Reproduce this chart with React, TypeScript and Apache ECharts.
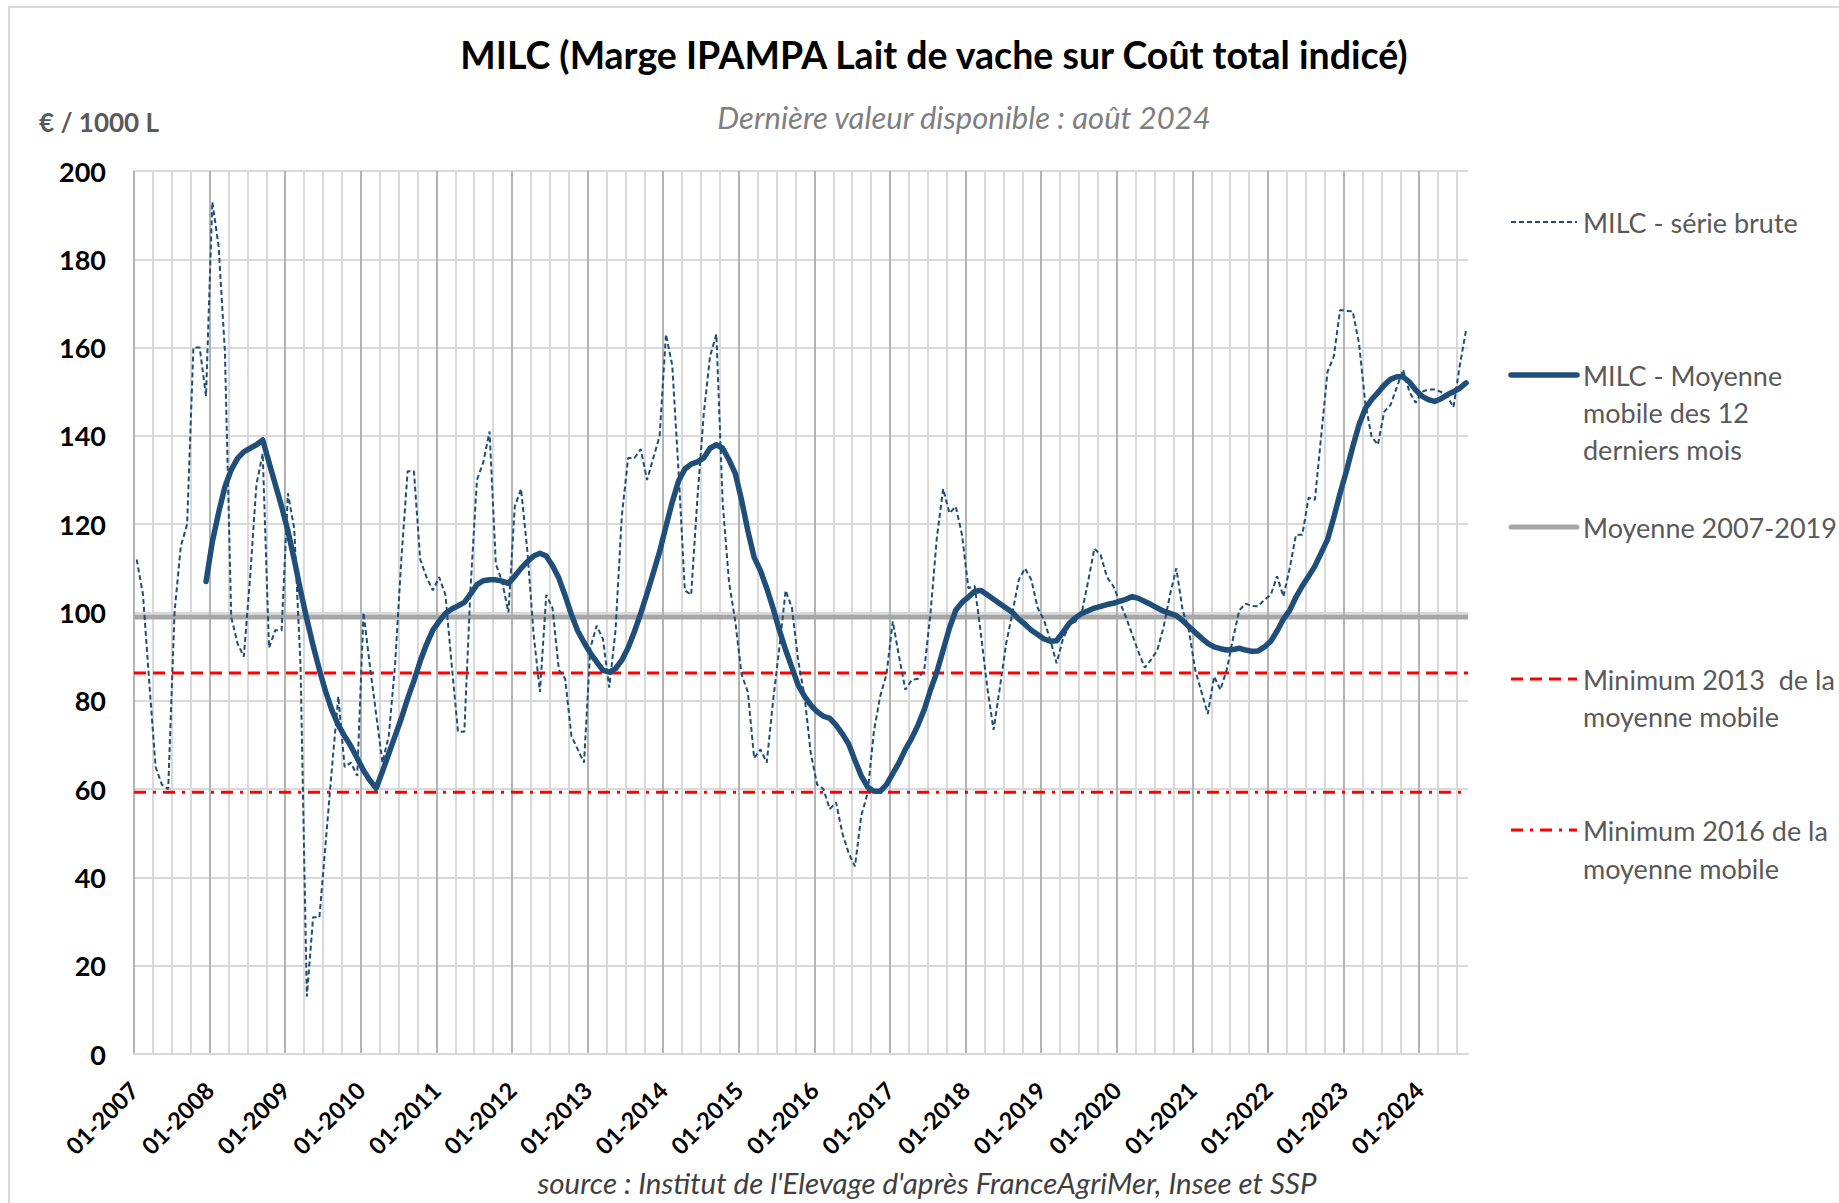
import React, { useEffect, useRef } from "react";
import * as echarts from "echarts";

// Tick labels of the yearly (major) vertical grid lines
const yearLabels = [
  "01-2007", "01-2008", "01-2009", "01-2010", "01-2011", "01-2012",
  "01-2013", "01-2014", "01-2015", "01-2016", "01-2017", "01-2018",
  "01-2019", "01-2020", "01-2021", "01-2022", "01-2023", "01-2024",
];

// MILC - série brute, monthly from 01-2007 to 08-2024 (€ / 1000 L)
const rawSeries = [
  // 2007
  112, 104, 84, 65, 61, 60, 100, 115, 120, 160, 160, 149,
  // 2008
  193, 183, 159, 99, 93, 90, 108, 129, 136, 92, 96, 96,
  // 2009
  127, 119, 88, 13, 31, 31, 48, 65, 81, 65, 66, 63,
  // 2010
  100, 88, 77, 66, 72, 88, 112, 132, 132, 112, 108, 105,
  // 2011
  108, 104, 88, 73, 73, 106, 130, 134, 141, 111, 107, 100,
  // 2012
  124, 128, 114, 95, 82, 104, 101, 87, 85, 72, 69, 66,
  // 2013
  92, 97, 94, 83, 96, 122, 135, 135, 137, 130, 135, 140,
  // 2014
  163, 156, 132, 105, 104, 126, 145, 158, 163, 125, 107, 98,
  // 2015
  86, 82, 67, 69, 66, 80, 92, 105, 101, 89, 81, 68,
  // 2016
  61, 60, 55.5, 57, 50, 45.5, 42.5, 54, 59, 73, 81, 86,
  // 2017
  98, 90, 82.5, 84.7, 85, 87, 100, 117, 128, 122.5, 124, 117.5,
  // 2018
  105.5, 106, 95, 83, 73.4, 83, 93, 100, 107.4, 110, 107.4, 101,
  // 2019
  98.3, 93.8, 88.5, 94, 97, 98, 100, 107, 114.5, 113, 108, 106,
  // 2020
  102.5, 99, 95, 91, 87.5, 89.3, 91.5, 96.8, 104, 110, 100.6, 96,
  // 2021
  87, 82, 77, 85.5, 82.5, 87, 94, 100.5, 102, 101.5, 101.4, 102.9,
  // 2022
  104, 108.2, 103.6, 110, 117.6, 117.6, 126, 125.5, 140, 154.5, 158, 168.5,
  // 2023
  168.3, 168.2, 161, 147.4, 139.8, 138, 145.5, 147, 151, 155, 150, 147.5,
  // 2024
  150, 150.5, 150.5, 150, 149, 146.5, 156, 164,
];

// MILC - Moyenne mobile des 12 derniers mois (starts 12-2007)
const movingAverage: (number | null)[] = [
  // 2007
  null, null, null, null, null, null, null, null, null, null, null, 107,
  // 2008
  116, 122.6, 128.5, 132.3, 134.9, 136.4, 137.2, 138, 139.1, 134, 129, 124,
  // 2009
  118.5, 112, 105, 98.5, 92.5, 87, 82, 77.8, 74.5, 72, 69.7, 67,
  // 2010
  64.2, 62, 60.2, 64, 68, 72, 76, 80.5, 84.5, 89, 92.8, 96,
  // 2011
  98, 99.8, 100.8, 101.5, 102.3, 104.2, 106.3, 107.2, 107.4, 107.4, 107.1, 106.6,
  // 2012
  108.2, 110, 111.5, 112.8, 113.4, 112.8, 110.6, 107.8, 103.8, 99.5, 95.8, 93.2,
  // 2013
  90.8, 88.8, 86.9, 86.5, 87.3, 89.2, 92, 95.7, 99.8, 104.3, 109, 113.8,
  // 2014
  119.5, 125, 129.8, 132.5, 133.6, 134.1, 135, 137.2, 138, 137.2, 134.6, 131.5,
  // 2015
  125.5, 118.5, 112.5, 109.5, 105.5, 101, 96, 91.5, 87.5, 83.5, 81, 79,
  // 2016
  77.5, 76.5, 76, 74.5, 72.5, 70.2, 66.5, 63, 60.5, 59.5, 59.5, 61,
  // 2017
  63.5, 66, 69, 71.5, 74.5, 78, 82.5, 86.5, 91.5, 96.5, 100.5, 102.3,
  // 2018
  103.5, 104.8, 105, 104, 103, 102, 101, 100, 98.5, 97.3, 96, 95,
  // 2019
  94, 93.5, 93.6, 95.5, 97.5, 98.8, 99.8, 100.4, 101, 101.4, 101.8, 102.1,
  // 2020
  102.5, 103, 103.6, 103.2, 102.5, 101.8, 101, 100.3, 99.8, 99.3, 98.2, 96.8,
  // 2021
  95.5, 94.2, 93, 92.2, 91.8, 91.5, 91.6, 91.9, 91.5, 91.2, 91.3, 92.2,
  // 2022
  93.5, 95.8, 98.5, 100.5, 103.5, 106, 108.2, 110.5, 113.5, 116.5, 121.5, 127,
  // 2023
  132, 137.5, 142.5, 146.2, 148.2, 149.8, 151.5, 152.8, 153.4, 153.4, 152.2, 150.4,
  // 2024
  149, 148.2, 147.8, 148.4, 149.3, 150, 150.8, 152,
];

// Reference levels
const MOYENNE_2007_2019 = 99.0;
const MINIMUM_2013 = 86.3;
const MINIMUM_2016 = 59.3;

const FONT = "Lato, 'Open Sans', sans-serif";
const NAVY = "#1f4e79";
const RED = "#ff0000";
const GREY = "#a6a6a6";

// Data axis extent (months from 01-2007); the plot edge sits a bit before the first month
const X_MIN = -0.43;
const X_MAX = 211.3;
const GRID_SPAN = 211.75; // same pixel span, counted from the 01-2007 grid line

export default function App() {
  const ref = useRef<HTMLDivElement>(null);

  useEffect(() => {
    if (!ref.current) return;
    const chart = echarts.init(ref.current, null, { renderer: "svg" });

    const refLine = (v: number) => [
      [X_MIN, v],
      [X_MAX, v],
    ];

    const legendX1 = 1511;
    const legendX2 = 1577;
    const legendTextX = 1583;
    const legendText = (text: string, y: number) => ({
      type: "text",
      x: legendTextX,
      y,
      silent: true,
      style: {
        text,
        fill: "#595959",
        fontSize: 27,
        fontFamily: FONT,
        align: "left",
        verticalAlign: "middle",
        textAlign: "left",
        textVerticalAlign: "middle",
      },
    });
    const legendLine = (y: number, stroke: string, lineWidth: number, lineDash?: number[]) => ({
      type: "line",
      silent: true,
      shape: { x1: legendX1, y1: y, x2: legendX2, y2: y },
      style: { stroke, lineWidth, lineDash: lineDash || null, lineCap: lineDash ? "butt" : "round" },
    });

    const option: any = {
      animation: false,
      backgroundColor: "#ffffff",
      grid: { left: 134, top: 171, width: 1334, height: 883, containLabel: false },
      xAxis: [
        {
          type: "value",
          min: X_MIN,
          max: X_MAX,
          position: "top",
          show: false,
        },
        {
          type: "value",
          min: 0,
          max: GRID_SPAN,
          interval: 3,
          position: "top",
          axisLine: { show: false },
          axisTick: { show: false },
          axisLabel: { show: false },
          splitLine: {
            show: true,
            showMaxLine: false,
            lineStyle: { color: "#d9d9d9", width: 2 },
          },
        },
        {
          type: "value",
          min: 0,
          max: GRID_SPAN,
          interval: 12,
          position: "bottom",
          axisLine: { show: true, onZero: false, lineStyle: { color: "#d9d9d9", width: 2 } },
          axisTick: { show: false },
          axisLabel: {
            show: true,
            rotate: 45,
            margin: 32,
            showMaxLabel: false,
            color: "#000000",
            fontSize: 23.5,
            fontWeight: "bold",
            fontFamily: FONT,
            formatter: (v: number) => {
              const k = Math.round(v / 12);
              return Math.abs(v - k * 12) < 1e-6 ? yearLabels[k] ?? "" : "";
            },
          },
          splitLine: {
            show: true,
            showMaxLine: false,
            lineStyle: { color: "#a6a6a6", width: 1.5 },
          },
        },
      ],
      yAxis: {
        type: "value",
        min: 0,
        max: 200,
        interval: 20,
        axisLine: { show: false },
        axisTick: { show: false },
        axisLabel: {
          margin: 28,
          color: "#000000",
          fontSize: 27,
          fontWeight: "bold",
          fontFamily: FONT,
        },
        splitLine: { show: true, lineStyle: { color: "#d9d9d9", width: 2 } },
      },
      series: [
        {
          name: "Moyenne 2007-2019",
          type: "line",
          xAxisIndex: 0,
          data: refLine(MOYENNE_2007_2019),
          symbol: "none",
          silent: true,
          z: 2,
          lineStyle: { color: GREY, width: 5 },
        },
        {
          name: "Minimum 2013 de la moyenne mobile",
          type: "line",
          xAxisIndex: 0,
          data: refLine(MINIMUM_2013),
          symbol: "none",
          silent: true,
          z: 2,
          lineStyle: { color: RED, width: 3, type: [12, 7] },
        },
        {
          name: "Minimum 2016 de la moyenne mobile",
          type: "line",
          xAxisIndex: 0,
          data: refLine(MINIMUM_2016),
          symbol: "none",
          silent: true,
          z: 2,
          lineStyle: { color: RED, width: 3, type: [12, 7, 3, 7] },
        },
        {
          name: "MILC - série brute",
          type: "line",
          xAxisIndex: 0,
          data: rawSeries.map((v, i) => [i, v]),
          symbol: "none",
          z: 3,
          lineStyle: { color: NAVY, width: 2, type: [5, 3] },
        },
        {
          name: "MILC - Moyenne mobile des 12 derniers mois",
          type: "line",
          xAxisIndex: 0,
          data: movingAverage
            .map((v, i) => (v == null ? null : [i, v]))
            .filter((p) => p !== null),
          symbol: "none",
          z: 4,
          lineStyle: { color: NAVY, width: 5.5, cap: "round", join: "round" },
        },
      ],
      graphic: [
        {
          type: "rect",
          silent: true,
          z: -10,
          shape: { x: 9, y: 7, width: 2000, height: 1400 },
          style: { fill: "none", stroke: "#d9d9d9", lineWidth: 2 },
        },
        {
          type: "text",
          x: 934,
          y: 54,
          silent: true,
          style: {
            text: "MILC (Marge IPAMPA Lait de vache sur Coût total indicé)",
            fill: "#000000",
            fontSize: 37.5,
            fontWeight: "bold",
            fontFamily: FONT,
            align: "center",
            verticalAlign: "middle",
            textAlign: "center",
            textVerticalAlign: "middle",
          },
        },
        {
          type: "text",
          x: 964,
          y: 117,
          silent: true,
          style: {
            text: "Dernière valeur disponible : août 2024",
            fill: "#7f7f7f",
            fontSize: 31,
            fontStyle: "italic",
            fontFamily: FONT,
            align: "center",
            verticalAlign: "middle",
            textAlign: "center",
            textVerticalAlign: "middle",
          },
        },
        {
          type: "text",
          x: 39,
          y: 122,
          silent: true,
          style: {
            text: "€ / 1000 L",
            fill: "#595959",
            fontSize: 26,
            fontWeight: "bold",
            fontFamily: FONT,
            align: "left",
            verticalAlign: "middle",
            textAlign: "left",
            textVerticalAlign: "middle",
          },
        },
        {
          type: "text",
          x: 927,
          y: 1182,
          silent: true,
          style: {
            text: "source : Institut de l'Elevage d'après FranceAgriMer, Insee et SSP",
            fill: "#404040",
            fontSize: 29.5,
            fontStyle: "italic",
            fontFamily: FONT,
            align: "center",
            verticalAlign: "middle",
            textAlign: "center",
            textVerticalAlign: "middle",
          },
        },
        legendLine(222, NAVY, 2, [5, 3]),
        legendText("MILC - série brute", 222),
        legendLine(375, NAVY, 5.5),
        legendText("MILC - Moyenne", 375),
        legendText("mobile des 12", 412),
        legendText("derniers mois", 449),
        legendLine(527, GREY, 5),
        legendText("Moyenne 2007-2019", 527),
        legendLine(679, RED, 3, [12, 7]),
        legendText("Minimum 2013  de la", 679),
        legendText("moyenne mobile", 716),
        legendLine(830, RED, 3, [12, 7, 3, 7]),
        legendText("Minimum 2016 de la", 830),
        legendText("moyenne mobile", 868),
      ],
    };

    chart.setOption(option);
    return () => chart.dispose();
  }, []);

  return (
    <div
      ref={ref}
      style={{
        position: "fixed",
        left: 0,
        top: 0,
        width: 1839,
        height: 1203,
        background: "#ffffff",
      }}
    />
  );
}
